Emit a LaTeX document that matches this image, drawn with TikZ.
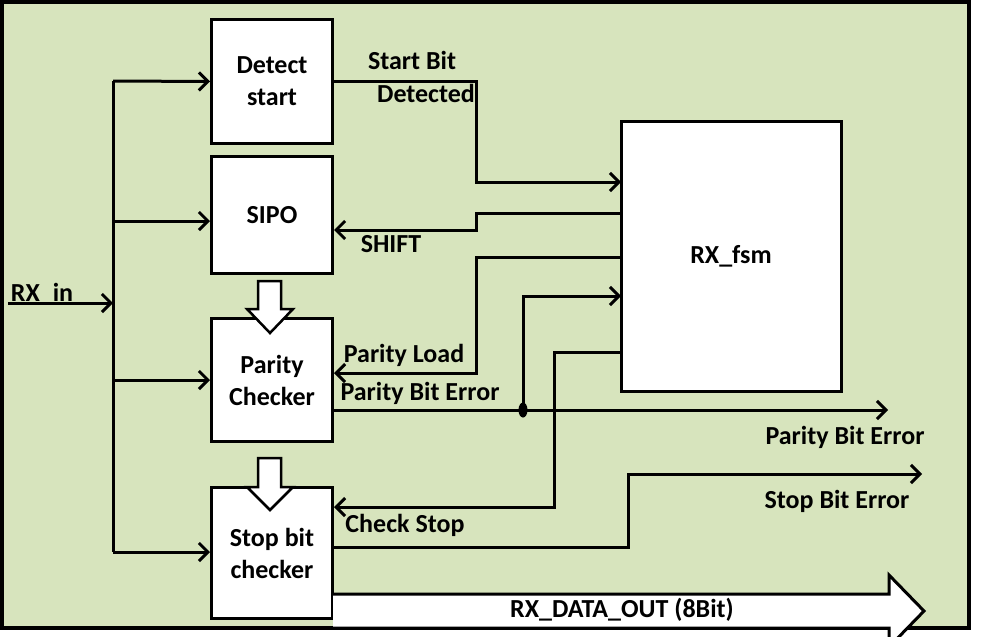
\documentclass[tikz,border=0pt]{standalone}
\usepackage{fontspec}
\setmainfont{Carlito}
\usetikzlibrary{arrows.meta,shapes.geometric}
\definecolor{panel}{RGB}{215,228,189}
\begin{document}
\begin{tikzpicture}[
  x=1pt, y=-1pt,
  line width=3pt,
  >={Straight Barb[length=9pt,width=18pt]},
  every node/.style={font=\bfseries\fontsize{26}{32}\selectfont},
  block/.style={draw, fill=white, rectangle, align=center, inner sep=0pt, minimum width=121pt},
  lbl/.style={inner sep=0pt},
  fat/.style={draw, fill=white, line width=2.5pt, line join=miter},
  junction/.style={ellipse, fill=black, inner sep=0pt, minimum width=9pt, minimum height=15pt}
]
\useasboundingbox (0,0) rectangle (985,637);
\fill[white] (0,0) rectangle (985,637);
\draw[fill=panel, line width=4pt] (2,2) rectangle (969,628);
\node[block, minimum height=124pt] (det) at (272,81.5) {Detect\\start};
\node[block, minimum height=117pt] (sipo) at (272,215) {SIPO};
\node[block, minimum height=123pt] (par) at (272,380) {Parity\\Checker};
\node[block, minimum height=131pt] (stop) at (272,553) {Stop bit\\checker};
\node[block, minimum width=220pt, minimum height=270pt] (fsm) at (731,256) {RX\_fsm};
\node[lbl] (rxin) at (42,294) {RX\_in};
\node[lbl] (sbd1) at (412,60) {Start Bit};
\node[lbl] (sbd2) at (426,93) {Detected};
\node[lbl] (shift) at (391,244) {SHIFT};
\node[lbl] (pload) at (404,355) {Parity Load};
\node[lbl] (perr1) at (420,393) {Parity Bit Error};
\node[lbl] (perr2) at (845,437) {Parity Bit Error};
\node[lbl] (cstop) at (405,525) {Check Stop};
\node[lbl] (serr) at (837,501) {Stop Bit Error};
\coordinate (rxstart) at (8,303);
\coordinate (bustop) at (113,81);
\coordinate (busbot) at (113,552);
\coordinate (sbbend) at (476,182);
\coordinate (sbin) at (621,182);
\coordinate (shout) at (621,213);
\coordinate (shbend) at (476,230);
\coordinate (plout) at (621,257);
\coordinate (plbend) at (476,373);
\coordinate (pein) at (621,296);
\coordinate (peend) at (888,410);
\coordinate (csout) at (621,352);
\coordinate (csbend) at (554,507);
\coordinate (sebend) at (628,474);
\coordinate (seend) at (922,474);
\draw[->] (rxstart) -- (rxstart -| bustop);
\draw (bustop) -- (busbot);
\draw[->] (bustop) -- (det.west);
\draw[->] ([yshift=-6pt]sipo.west -| bustop) -- ([yshift=-6pt]sipo.west);
\draw[->] (par.west -| bustop) -- (par.west);
\draw[->] (busbot) -- (stop.west |- busbot);
\draw[->] (det.east |- bustop) -| (sbbend) -- (sbin);
\draw[->] (shout) -| (shbend) -- (sipo.east |- shbend);
\draw[->] (plout) -| (plbend) -- (par.east |- plbend);
\draw[->] (par.east |- peend) -- (peend);
\node[junction] (jn) at (523,410) {};
\draw[->] (jn.center) |- (pein);
\draw[->] (csout) -| (csbend) -- (stop.east |- csbend);
\draw[->] ([yshift=6pt]stop.east) -| (sebend) -- (seend);
\draw[fat] (258,281) -- (281,281) -- (281,309) -- (293,309) -- (270,333) -- (247,309) -- (258,309) -- cycle;
\draw[fat] (258,458) -- (281,458) -- (281,487) -- (293,487) -- (270,510) -- (247,487) -- (258,487) -- cycle;
\draw[fat, line width=3pt] (333,594) -- (889,594) -- (889,575) -- (924,611) -- (889,647) -- (889,628) -- (333,628);
\node[lbl] (dout) at (622,610) {RX\_DATA\_OUT (8Bit)};
\end{tikzpicture}
\end{document}
